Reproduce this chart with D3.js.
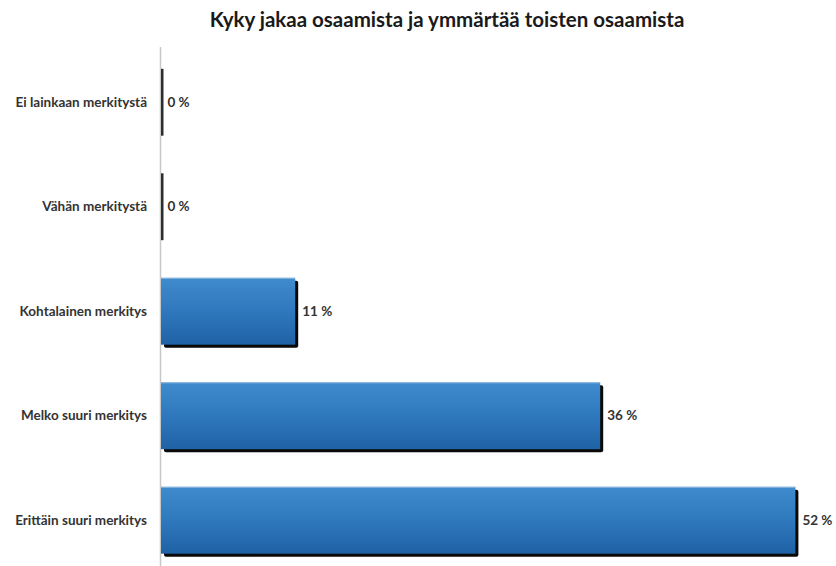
<!DOCTYPE html>
<html><head><meta charset="utf-8">
<script src="https://cdn.jsdelivr.net/npm/d3@7"></script>
<style>body{margin:0;background:#fff}svg{display:block}</style>
</head><body>
<script>
const title = "Kyky jakaa osaamista ja ymmärtää toisten osaamista";
const categories = ["Ei lainkaan merkitystä","Vähän merkitystä","Kohtalainen merkitys","Melko suuri merkitys","Erittäin suuri merkitys"];
const values = [0, 0, 11, 36, 52];
const valueLabels = ["0 %","0 %","11 %","36 %","52 %"];

const W = 836, H = 566;
const svg = d3.select("body").append("svg").attr("width", W).attr("height", H);
const font = "Lato, 'Open Sans', sans-serif";

const defs = svg.append("defs");
const g = defs.append("linearGradient").attr("id","blueGrad").attr("x1",0).attr("y1",0).attr("x2",0).attr("y2",1);
g.append("stop").attr("offset","0%").attr("stop-color","#3f8bcc");
g.append("stop").attr("offset","50%").attr("stop-color","#2f78bd");
g.append("stop").attr("offset","100%").attr("stop-color","#1f62a5");

const x = d3.scaleLinear().domain([0, 52]).range([161, 161 + 52*12.2]);
const y = d3.scaleBand().domain(categories).range([50, 572.5]).paddingInner(0.36).paddingOuter(0.18);

svg.append("text").attr("x", 447).attr("y", 27).attr("text-anchor","middle")
  .attr("font-family", font).attr("font-weight","bold").attr("font-size", 20.5).attr("fill","#1a1a1a").text(title);

// axis line
svg.append("line").attr("x1",160.5).attr("x2",160.5).attr("y1",47).attr("y2",H).attr("stroke","#c8c8c8").attr("stroke-width",1.5);

const rows = svg.selectAll("g.row").data(categories).enter().append("g").attr("class","row");
rows.each(function(c, i){
  const sel = d3.select(this);
  const v = values[i];
  const y0 = y(c), bh = y.bandwidth();
  const x0 = x(0), x1 = x(v);
  if (v === 0) {
    sel.append("rect").attr("x", x0).attr("y", y0).attr("width", 2.5).attr("height", bh).attr("fill","#2a2f2f");
  } else {
    sel.append("rect").attr("x", x0+3).attr("y", y0+3).attr("width", x1-x0).attr("height", bh).attr("fill","#0a0a0a").attr("rx",2);
    sel.append("rect").attr("x", x0).attr("y", y0).attr("width", x1-x0).attr("height", bh).attr("fill","url(#blueGrad)");
    sel.append("line").attr("x1", x0).attr("x2", x1).attr("y1", y0+0.5).attr("y2", y0+0.5).attr("stroke","#8fb9df").attr("stroke-width",1);
  }
  sel.append("text").attr("x", (v===0 ? x0+2.5 : x1+3) + 4).attr("y", y0 + bh/2).attr("dy","0.35em")
    .attr("font-family", font).attr("font-weight","bold").attr("font-size", 13.5).attr("fill","#333").text(valueLabels[i]);
  sel.append("text").attr("x", 147).attr("y", y0 + bh/2).attr("dy","0.35em").attr("text-anchor","end")
    .attr("font-family", font).attr("font-weight","bold").attr("font-size", 13.5).attr("fill","#333").text(c);
});
</script>
</body></html>
